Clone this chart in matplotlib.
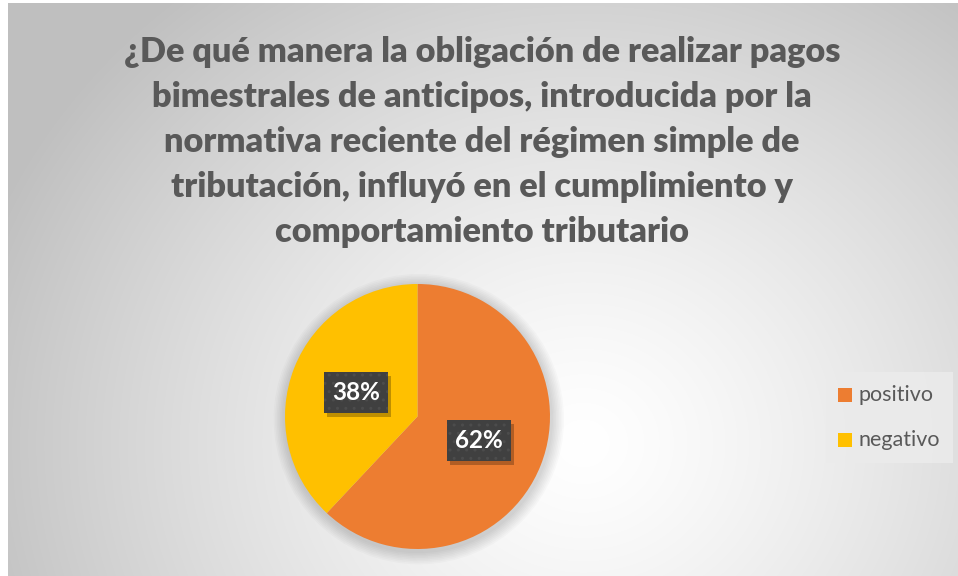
import numpy as np
import matplotlib.pyplot as plt
from matplotlib.patches import Circle, Rectangle

# ---------------- data ----------------
categories = ["positivo", "negativo"]
shares = [62, 38]
colors = ["#ED7D31", "#FFC000"]
title_lines = [
    "¿De qué manera la obligación de realizar pagos",
    "bimestrales de anticipos, introducida por la",
    "normativa reciente del régimen simple de",
    "tributación, influyó en el cumplimiento y",
    "comportamiento tributario",
]

W, H = 958, 576
fig = plt.figure(figsize=(W / 100, H / 100), dpi=100)
fig.patch.set_facecolor("white")

# background with radial gradient (chart area)
bg = fig.add_axes([8 / W, 0, (W - 8) / W, (H - 3) / H])
yy, xx = np.mgrid[0:H - 3, 0:W - 8]
cx, cy = 575, 440
d = np.sqrt((xx - cx) ** 2 + ((yy - cy) * 1.1) ** 2)
t = np.clip(d / 640, 0, 1)
g = 1.0 - 0.25 * t ** 1.3
img = np.dstack([g, g, g])
bg.imshow(img, origin="upper", aspect="auto", extent=[0, W - 8, H - 3, 0])
bg.set_axis_off()

# title
for i, line in enumerate(title_lines):
    fig.text(482 / W, 1 - (52 + i * 45) / H, line, ha="center", va="center",
             fontsize=24.7, fontweight="heavy", color="#595959", family="Lato")

# pie
pcx, pcy, r = 417.5, 416.5, 132.5
ax = fig.add_axes([(pcx - r) / W, (H - pcy - r) / H, 2 * r / W, 2 * r / H])

# soft shadow under pie
for k in range(8):
    ax.add_patch(Circle((0.01, -0.02), 1.0 + 0.012 * (k + 1), fc="black",
                        alpha=0.018, ec="none", zorder=0, clip_on=False))

wedges, texts = ax.pie(shares, colors=colors, startangle=90, counterclock=False,
                       radius=1, wedgeprops=dict(linewidth=0))
for w in wedges:
    w.set_zorder(2)
ax.set_xlim(-1, 1)
ax.set_ylim(-1, 1)
ax.set_axis_off()

for w, v in zip(wedges, shares):
    ang = np.deg2rad((w.theta1 + w.theta2) / 2)
    x, y = 0.5 * np.cos(ang), 0.5 * np.sin(ang)
    bw, bh = 64 / r, 41 / r
    ax.add_patch(Rectangle((x - bw / 2 + 0.025, y - bh / 2 - 0.03), bw, bh,
                           fc="black", alpha=0.25, ec="none", zorder=3))
    ax.add_patch(Rectangle((x - bw / 2, y - bh / 2), bw, bh, fc="#404040",
                           ec="#4c4c4c", hatch="..", lw=0, zorder=4))
    ax.text(x, y, f"{v}%", ha="center", va="center", color="white",
            fontsize=17.5, fontweight="bold", family="Lato", zorder=5)

# legend (drawn by hand in figure pixels)
fig.patches.append(Rectangle((826 / W, 1 - 463 / H), 127 / W, 91 / H,
                             transform=fig.transFigure, fc="#ebebeb",
                             ec="none", alpha=0.9))
for i, (lab, col) in enumerate(zip(categories, colors)):
    ymid = 395 + i * 45
    fig.patches.append(Rectangle((838 / W, 1 - (ymid + 7) / H), 14 / W, 14 / H,
                                 transform=fig.transFigure, fc=col, ec="none"))
    fig.text(859 / W, 1 - ymid / H, lab, ha="left", va="center",
             fontsize=15.5, color="#595959", family="Lato")

fig.savefig("out.png", dpi=100)
